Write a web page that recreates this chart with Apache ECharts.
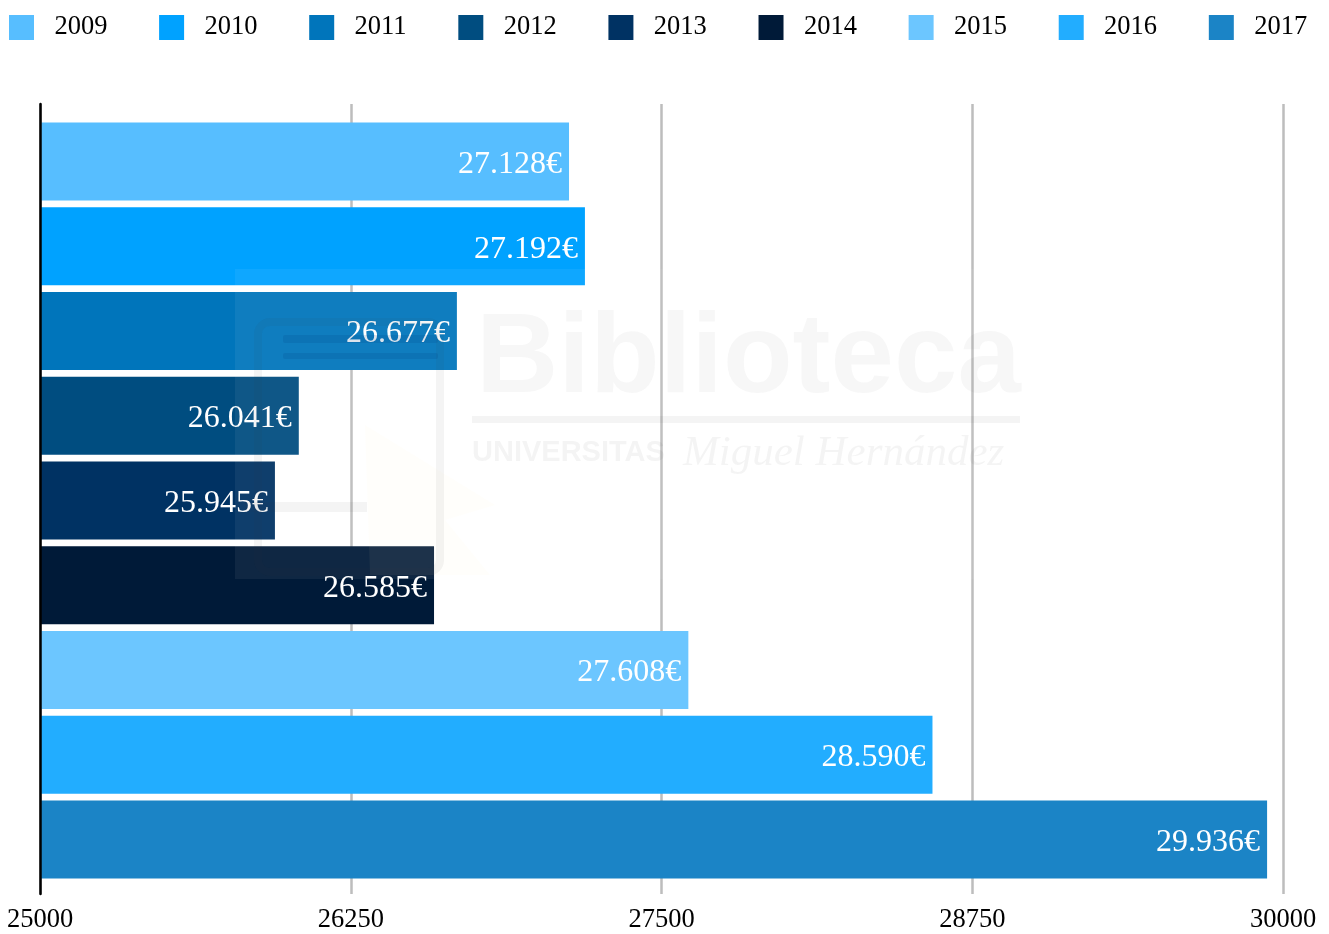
<!DOCTYPE html>
<html>
<head>
<meta charset="utf-8">
<style>html,body{margin:0;padding:0;background:#fff}#c{width:1329px;height:934px}</style>
<script src="https://cdn.jsdelivr.net/npm/echarts@6/dist/echarts.min.js"></script>
</head>
<body>
<div id="c"></div>
<script>
const years = ['2009','2010','2011','2012','2013','2014','2015','2016','2017'];
const values = [27128,27192,26677,26041,25945,26585,27608,28590,29936];
const valueLabels = ['27.128€','27.192€','26.677€','26.041€','25.945€','26.585€','27.608€','28.590€','29.936€'];
const colors = ['#57beff','#00a2ff','#0075bb','#004d80','#003263','#001a38','#6cc6ff','#22adff','#1b84c6'];
const axisMin = 25000, axisMax = 30000, axisStep = 1250;
const font = '"Liberation Serif","Times New Roman",serif';

const chart = echarts.init(document.getElementById('c'), null, {renderer:'canvas'});
const wm = 'rgba(60,60,60,0.055)';
chart.setOption({
  animation:false,
  backgroundColor:'#fff',
  textStyle:{fontFamily:font},
  legend:{
    left:9, top:14, padding:0, itemWidth:25, itemHeight:25, itemGap:51.7,
    icon:'rect',
    data:years,
    selectedMode:false,
    textStyle:{fontFamily:font,fontSize:26.5,color:'#000',padding:[2,0,0,15.4]}
  },
  grid:[
    {left:40,top:104,width:1243,height:791},
    {left:40,top:119,width:1243,height:763}
  ],
  xAxis:[
    {gridIndex:0,type:'value',min:axisMin,max:axisMax,interval:axisStep,
     axisLine:{show:false},axisTick:{show:false},
     axisLabel:{fontFamily:font,fontSize:26.5,color:'#000',margin:13,formatter:v=>String(v)},
     splitLine:{show:true,lineStyle:{color:'#bdbdbd',width:2.5}}},
    {gridIndex:1,type:'value',min:axisMin,max:axisMax,interval:axisStep,show:false}
  ],
  yAxis:[
    {gridIndex:0,type:'category',inverse:true,data:years,z:5,
     axisTick:{show:false},axisLabel:{show:false},
     axisLine:{show:true,onZero:false,lineStyle:{color:'#000',width:2.5}}},
    {gridIndex:1,type:'category',inverse:true,data:years,show:false}
  ],
  series:years.map((y,i)=>({
    name:y,type:'bar',xAxisIndex:1,yAxisIndex:1,
    barWidth:78,barGap:'-100%',
    itemStyle:{color:colors[i]},
    label:{show:true,position:'insideRight',distance:7,offset:[0,3],color:'#fff',
      fontFamily:font,fontSize:32,formatter:()=>valueLabels[i]},
    data:years.map((_,j)=>j===i?values[i]:null)
  })),
  graphic:[
    {type:'rect',z:100,silent:true,shape:{x:235,y:269,width:795,height:310},style:{fill:'rgba(255,255,255,0.06)'}},
    {type:'rect',z:101,silent:true,shape:{x:258,y:322,width:182,height:250,r:12},style:{fill:'none',stroke:wm,lineWidth:8}},
    {type:'rect',z:101,silent:true,shape:{x:283,y:335,width:155,height:8,r:2},style:{fill:'rgba(0,60,120,0.14)'}},
    {type:'rect',z:101,silent:true,shape:{x:283,y:353,width:155,height:6,r:2},style:{fill:'rgba(0,60,120,0.14)'}},
    {type:'rect',z:101,silent:true,shape:{x:245,y:502,width:122,height:10},style:{fill:wm}},
    {type:'polygon',z:101,silent:true,shape:{points:[[365,425],[495,505],[445,520],[490,575],[370,575]]},style:{fill:'rgba(255,240,190,0.06)'}},
    {type:'text',z:101,silent:true,x:476,y:304,style:{text:'Biblioteca',font:'bold 114px "Liberation Sans",sans-serif',fill:'rgba(60,60,60,0.045)'}},
    {type:'rect',z:101,silent:true,shape:{x:472,y:416,width:548,height:7},style:{fill:wm}},
    {type:'text',z:101,silent:true,x:472,y:438,style:{text:'UNIVERSITAS',font:'bold 29px "Liberation Sans",sans-serif',fill:wm}},
    {type:'text',z:101,silent:true,x:683,y:432,style:{text:'Miguel Hernández',font:'italic 43px "Liberation Serif",serif',fill:wm}}
  ]
});
</script>
</body>
</html>
